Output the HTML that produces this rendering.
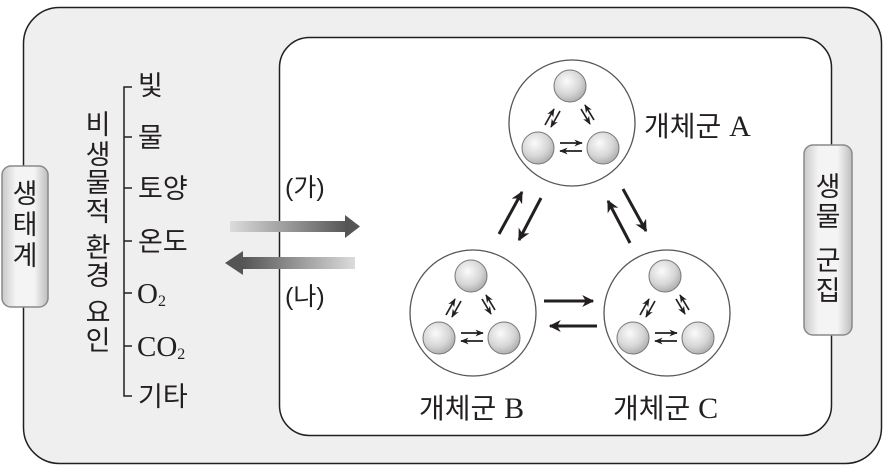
<!DOCTYPE html>
<html><head><meta charset="utf-8"><style>
html,body{margin:0;padding:0;background:#fff}
svg{display:block}
text{font-family:"Liberation Sans","Noto Sans CJK KR",sans-serif;fill:#231f20}
</style></head><body>
<svg width="891" height="472" viewBox="0 0 891 472" xmlns="http://www.w3.org/2000/svg">
<defs>
<radialGradient id="ball" cx="0.4" cy="0.35" r="0.7">
<stop offset="0" stop-color="#fbfbfb"/><stop offset="0.6" stop-color="#d6d6d6"/><stop offset="1" stop-color="#a9a9a9"/>
</radialGradient>
<linearGradient id="tab" x1="0" x2="1">
<stop offset="0" stop-color="#c9c9c9"/><stop offset="0.3" stop-color="#f4f4f4"/><stop offset="0.7" stop-color="#f4f4f4"/><stop offset="1" stop-color="#bdbdbd"/>
</linearGradient>
<linearGradient id="gr" x1="0" x2="1"><stop offset="0" stop-color="#dcdcdc"/><stop offset="1" stop-color="#555"/></linearGradient>
<linearGradient id="gl" x1="0" x2="1"><stop offset="0" stop-color="#555"/><stop offset="1" stop-color="#dcdcdc"/></linearGradient>
<marker id="ah" viewBox="0 0 10 10" refX="9" refY="5" markerWidth="4" markerHeight="4" orient="auto"><path d="M0,0 L10,5 L0,10 L3,5 z" fill="#231f20"/></marker>
<marker id="sh" viewBox="0 0 10 10" refX="9" refY="5" markerWidth="5" markerHeight="5" orient="auto"><path d="M0,1 L10,5 L0,9 L3,5 z" fill="#231f20"/></marker>
<g id="pop">
<circle r="63" fill="#fff" stroke="#555" stroke-width="1.3"/>
<circle cx="-2" cy="-37" r="16" fill="url(#ball)" stroke="#777" stroke-width="1"/>
<circle cx="-34" cy="25" r="16" fill="url(#ball)" stroke="#777" stroke-width="1"/>
<circle cx="31" cy="25" r="16" fill="url(#ball)" stroke="#777" stroke-width="1"/>
<g stroke="#231f20" stroke-width="1.7" fill="none" marker-end="url(#sh)">
<line x1="-27" y1="2" x2="-18" y2="-14"/>
<line x1="-12" y1="-12" x2="-21" y2="4"/>
<line x1="9" y1="-14" x2="18" y2="1"/>
<line x1="22" y1="-3" x2="13" y2="-18"/>
<line x1="-12" y1="20" x2="10" y2="20"/>
<line x1="10" y1="28" x2="-12" y2="28"/>
</g>
</g>
</defs>
<rect x="23.5" y="7.5" width="858" height="456" rx="36" fill="#efefef" stroke="#231f20" stroke-width="1.5"/>
<rect x="279.5" y="37.5" width="552" height="398" rx="30" fill="#fff" stroke="#231f20" stroke-width="1.5"/>
<rect x="2" y="166" width="46" height="141" rx="9" fill="url(#tab)" stroke="#8a8a8a" stroke-width="1.5"/>
<text x="25" y="203" font-size="27" text-anchor="middle">생</text>
<text x="25" y="234" font-size="27" text-anchor="middle">태</text>
<text x="25" y="265" font-size="27" text-anchor="middle">계</text>
<rect x="804" y="145" width="48" height="190" rx="9" fill="url(#tab)" stroke="#8a8a8a" stroke-width="1.5"/>
<text x="828" y="196" font-size="27" text-anchor="middle">생</text>
<text x="828" y="226" font-size="27" text-anchor="middle">물</text>
<text x="828" y="270" font-size="27" text-anchor="middle">군</text>
<text x="828" y="300" font-size="27" text-anchor="middle">집</text>
<g font-size="27" text-anchor="middle">
<text x="98" y="134">비</text><text x="98" y="164">생</text><text x="98" y="192">물</text><text x="98" y="221">적</text>
<text x="98" y="257">환</text><text x="98" y="285">경</text>
<text x="98" y="322">요</text><text x="98" y="350">인</text>
</g>
<g stroke="#231f20" stroke-width="1.5" fill="none">
<path d="M132,87 H124 V396 H132"/>
<line x1="124" y1="137" x2="132" y2="137"/><line x1="124" y1="188" x2="132" y2="188"/>
<line x1="124" y1="241" x2="132" y2="241"/><line x1="124" y1="293" x2="132" y2="293"/>
<line x1="124" y1="346" x2="132" y2="346"/>
</g>
<g font-size="27">
<text x="138" y="95">빛</text><text x="138" y="147">물</text><text x="138" y="198">토양</text>
<text x="138" y="251">온도</text>
<text x="137" y="303" style="font-family:'Liberation Serif',serif;font-size:29px">O<tspan style="font-size:16px" dy="3">2</tspan></text>
<text x="137" y="356" style="font-family:'Liberation Serif',serif;font-size:29px">CO<tspan style="font-size:16px" dy="3">2</tspan></text>
<text x="138" y="406">기타</text>
</g>
<text x="285" y="196" font-size="25">(가)</text>
<text x="285" y="305" font-size="25">(나)</text>
<rect x="230" y="221" width="118" height="11" fill="url(#gr)"/>
<path d="M345,215 L360,226.5 L345,238 z" fill="#555"/>
<rect x="243" y="257" width="112" height="12" fill="url(#gl)"/>
<path d="M243,251 L225,263 L243,275 z" fill="#555"/>
<use href="#pop" x="572" y="123"/>
<use href="#pop" x="473" y="313"/>
<use href="#pop" x="667" y="313"/>
<g stroke="#231f20" stroke-width="3" fill="none" marker-end="url(#ah)">
<line x1="499" y1="234" x2="522" y2="192"/>
<line x1="541" y1="198" x2="519" y2="240"/>
<line x1="630" y1="243" x2="608" y2="201"/>
<line x1="623" y1="189" x2="646" y2="231"/>
<line x1="544" y1="301" x2="593" y2="301"/>
<line x1="597" y1="326" x2="550" y2="326"/>
</g>
<text x="644" y="136" font-size="28">개체군 <tspan style="font-family:'Liberation Serif',serif;font-size:30px">A</tspan></text>
<text x="419" y="418" font-size="28">개체군 <tspan style="font-family:'Liberation Serif',serif;font-size:30px">B</tspan></text>
<text x="613" y="418" font-size="28">개체군 <tspan style="font-family:'Liberation Serif',serif;font-size:30px">C</tspan></text>
</svg>
</body></html>
